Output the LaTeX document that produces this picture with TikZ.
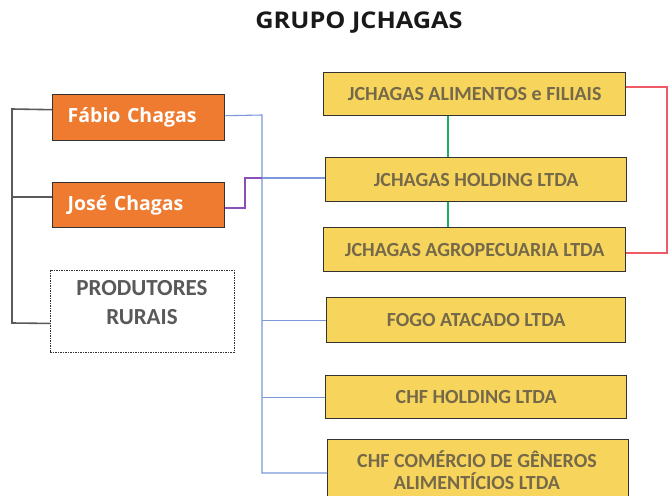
\documentclass[tikz,border=0pt]{standalone}
\usepackage{fontspec}
\setmainfont{Carlito}
\newfontfamily\osans{Open Sans}
\usetikzlibrary{calc}
\definecolor{orangebox}{HTML}{EE7B30}
\definecolor{yellowbox}{HTML}{F7D55C}
\definecolor{ytext}{HTML}{75694A}
\definecolor{gtext}{HTML}{595959}
\definecolor{blueline}{HTML}{7A98DA}
\definecolor{purpleline}{HTML}{8A4FB8}
\definecolor{greenline}{HTML}{19B060}
\definecolor{redline}{HTML}{EE5A66}
\definecolor{grayline}{HTML}{5A5A5A}
\tikzset{
  person/.style={draw=black!80, line width=1.4pt, fill=orangebox, text=white, font=\osans\bfseries\fontsize{19.5}{21}\selectfont, anchor=north west, inner ysep=0pt, inner xsep=15pt, text width=142pt, align=left},
  company/.style={draw=black!80, line width=1.4pt, fill=yellowbox, text=ytext, font=\bfseries\fontsize{20}{22}\selectfont, anchor=north west, inner sep=0pt, align=center},
  ctext/.style={text=ytext, font=\bfseries\fontsize{20}{22}\selectfont, align=center, inner sep=0pt},
  rural/.style={draw=black!80, dashed, dash pattern=on 1.5pt off 1pt, line width=0.9pt, fill=white, anchor=north west, inner sep=0pt},
  rtext/.style={text=gtext, font=\bfseries\fontsize{23}{29}\selectfont, align=center, inner sep=0pt},
  grayc/.style={draw=grayline, line width=1.6pt},
  bluec/.style={draw=blueline, line width=1.1pt},
  purplec/.style={draw=purpleline, line width=1.1pt},
  greenc/.style={draw=greenline, line width=2.4pt},
  redc/.style={draw=redline, line width=1.1pt}
}
\begin{document}
\begin{tikzpicture}[x=1pt,y=-1pt]
\useasboundingbox[fill=white] (0,0) rectangle (668,495);
\node[font=\osans\bfseries\fontsize{23}{25}\selectfont, text=black!90] (title) at (359,23) {\scalebox{1.1}[1]{GRUPO JCHAGAS}};

\node[person, minimum height=46pt] (fabio) at (52,94) {Fábio Chagas};
\node[person, minimum height=45pt] (jose) at (52,182) {José Chagas};
\node[rural, minimum width=184pt, minimum height=82pt] (rural) at (50,270) {};
\node[rtext] (ruralt) at (142,303) {PRODUTORES\\RURAIS};

\node[company, minimum width=302pt, minimum height=43pt] (alim) at (323,72) {JCHAGAS ALIMENTOS e FILIAIS};
\node[company, minimum width=301pt, minimum height=44pt] (hold) at (325,157) {JCHAGAS HOLDING LTDA};
\node[company, minimum width=302pt, minimum height=44pt] (agro) at (323,227) {JCHAGAS AGROPECUARIA LTDA};
\node[company, minimum width=299pt, minimum height=45pt] (fogo) at (326,297) {FOGO ATACADO LTDA};
\node[company, minimum width=301pt, minimum height=43pt] (chfh) at (325,375) {CHF HOLDING LTDA};
\node[company, minimum width=301pt, minimum height=68pt] (chfc) at (327,439) {};
\node[ctext] (chfct) at (477,470) {CHF COMÉRCIO DE GÊNEROS\\ALIMENTÍCIOS LTDA};

% gray bracket
\coordinate (gtop) at (12,109);
\coordinate (gmid) at (12,197);
\coordinate (gbot) at (12,323);
\draw[grayc] ([yshift=8pt]fabio.west) -- (gtop) -- (gbot) -- ([yshift=-12pt]rural.west);
\draw[grayc] (gmid) -- (jose.west |- gmid);

% blue trunk
\coordinate (btop) at (262,115);
\coordinate (bhold) at (262,178);
\coordinate (bbot) at (262,473);
\draw[bluec] ([yshift=2pt]fabio.east) -- (btop) -- (bbot) -- (chfc.west |- bbot);
\draw[bluec] (bhold) -- (hold.west |- bhold);
\draw[bluec] (fogo.west -| btop) -- (fogo.west);
\draw[bluec] (chfh.west -| btop) -- (chfh.west);

% purple
\coordinate (p1) at (245,208);
\coordinate (p2) at (245,178);
\draw[purplec] (jose.east |- p1) -- (p1) -- (p2) -- (bhold);

% green
\coordinate (gx) at (448,0);
\draw[greenc] (alim.south -| gx) -- (hold.north -| gx);
\draw[greenc] (hold.south -| gx) -- (agro.north -| gx);

% red
\coordinate (r1) at (667,87);
\coordinate (r2) at (667,253);
\draw[redc] (alim.east |- r1) -- (r1) -- (r2) -- (agro.east |- r2);
\end{tikzpicture}
\end{document}
